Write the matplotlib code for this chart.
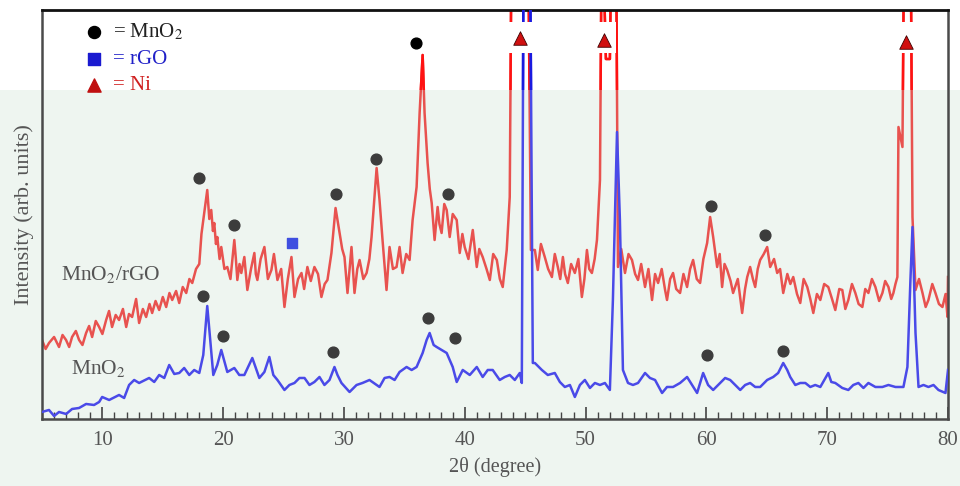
import matplotlib.pyplot as plt
from matplotlib.patches import Rectangle

# 2theta (degree) / intensity (arb. units)
red_x = [5.0, 5.3, 5.58, 6.0, 6.41, 6.7, 6.99, 7.25, 7.49, 7.8,
         8.07, 8.35, 8.65, 8.9, 9.15, 9.45, 9.73, 10.0, 10.31, 10.55,
         10.80, 11.1, 11.38, 11.7, 11.97, 12.2, 12.46, 12.79, 13.04, 13.35,
         13.62, 13.9, 14.12, 14.4, 14.70, 15.0, 15.28, 15.55, 15.78, 16.1,
         16.36, 16.65, 16.94, 17.2, 17.44, 17.75, 18.02, 18.2, 18.43, 18.68,
         18.85, 19.01, 19.15, 19.26, 19.4, 19.51, 19.7, 19.84, 20.1, 20.34,
         20.6, 20.92, 21.05, 21.17, 21.35, 21.50, 21.75, 22.00, 22.3, 22.58,
         22.7, 22.83, 23.1, 23.41, 23.7, 23.99, 24.2, 24.49, 24.8, 25.07,
         25.35, 25.65, 25.90, 26.2, 26.48, 26.7, 26.97, 27.25, 27.55, 27.85,
         28.13, 28.4, 28.63, 28.96, 29.30, 29.63, 29.85, 30.04, 30.29, 30.62,
         30.87, 31.1, 31.29, 31.6, 31.87, 32.1, 32.28, 32.70, 32.94, 33.19,
         33.52, 33.77, 34.05, 34.35, 34.60, 34.85, 35.15, 35.43, 35.68, 36.01,
         36.26, 36.51, 36.67, 36.92, 37.1, 37.26, 37.50, 37.75, 37.9, 38.08,
         38.3, 38.50, 38.75, 39.0, 39.33, 39.58, 39.8, 39.99, 40.3, 40.66,
         40.99, 41.2, 41.48, 41.8, 42.07, 42.35, 42.65, 42.9, 43.14, 43.47,
         43.72, 43.89, 45.22, 45.47, 45.80, 46.04, 46.3, 46.62, 46.9, 47.21,
         47.45, 47.70, 47.9, 48.12, 48.3, 48.53, 48.8, 49.11, 49.4, 49.69,
         49.9, 50.11, 50.3, 50.52, 50.75, 50.94, 51.19, 51.35, 51.68, 52.01,
         52.18, 52.51, 52.68, 52.95, 53.26, 53.55, 53.84, 54.1, 54.34, 54.6,
         54.92, 55.2, 55.50, 55.75, 56.00, 56.3, 56.58, 56.74, 57.0, 57.24,
         57.5, 57.82, 58.1, 58.40, 58.65, 58.90, 59.2, 59.48, 59.75, 60.06,
         60.31, 60.56, 60.89, 61.1, 61.30, 61.5, 61.72, 62.0, 62.21, 62.6,
         62.96, 63.2, 63.38, 63.62, 63.85, 64.04, 64.25, 64.45, 64.75, 65.03,
         65.28, 65.6, 65.86, 66.1, 66.36, 66.7, 66.95, 67.19, 67.5, 67.77,
         68.05, 68.35, 68.6, 68.85, 69.15, 69.43, 69.75, 70.09, 70.4, 70.67,
         71.0, 71.25, 71.5, 71.75, 72.05, 72.33, 72.6, 72.91, 73.15, 73.41,
         73.7, 73.99, 74.3, 74.57, 74.8, 75.07, 75.3, 75.48, 75.65, 75.81,
         75.90, 76.23, 76.39, 76.89, 77.06, 77.31, 77.6, 77.89, 78.15, 78.38,
         78.7, 78.96, 79.25, 79.54, 79.8, 79.96, 80.0]
red_y = [79, 70, 76, 82, 72, 84, 79, 72, 82, 88,
         79, 74, 86, 93, 82, 98, 92, 85, 99, 108,
         92, 104, 99, 110, 92, 105, 102, 120, 96, 110,
         102, 115, 106, 118, 109, 122, 112, 126, 119, 128,
         116, 132, 126, 140, 136, 150, 155, 185, 206, 229,
         200, 209, 188, 196, 175, 182, 160, 172, 150, 152,
         140, 179, 160, 139, 155, 146, 162, 129, 150, 166,
         145, 139, 160, 172, 140, 149, 165, 139, 150, 112,
         140, 162, 122, 140, 146, 130, 152, 138, 152, 145,
         122, 135, 139, 166, 211, 186, 170, 162, 126, 172,
         126, 150, 159, 140, 146, 160, 182, 251, 219, 179,
         129, 172, 150, 152, 172, 146, 165, 159, 199, 232,
         306, 364, 306, 256, 230, 216, 179, 212, 195, 186,
         215, 209, 182, 205, 199, 166, 185, 172, 160, 189,
         152, 170, 162, 150, 139, 165, 159, 140, 132, 169,
         222, 520, 520, 169, 169, 149, 175, 162, 150, 142,
         165, 152, 140, 162, 145, 136, 155, 146, 160, 122,
         140, 169, 150, 146, 160, 179, 239, 520, 360, 360,
         520, 520, 152, 170, 146, 165, 159, 145, 139, 155,
         132, 150, 119, 145, 136, 150, 129, 119, 140, 146,
         130, 126, 145, 132, 150, 159, 140, 136, 160, 176,
         202, 182, 152, 165, 132, 155, 149, 138, 126, 140,
         106, 130, 142, 152, 140, 132, 150, 159, 165, 172,
         152, 160, 146, 150, 126, 145, 135, 142, 125, 116,
         140, 132, 120, 106, 125, 119, 135, 132, 120, 109,
         130, 129, 110, 119, 135, 126, 115, 112, 130, 126,
         140, 132, 118, 126, 138, 132, 120, 126, 135, 142,
         292, 272, 520, 520, 202, 129, 140, 126, 112, 119,
         135, 126, 115, 112, 125, 102, 142]

blue_x = [5.0, 5.58, 6.0, 6.41, 7.0, 7.49, 8.07, 8.65, 9.31, 9.73, 9.98, 10.56, 11.38, 11.8,
          12.21, 12.63, 13.04, 13.87, 14.29, 14.70, 15.12, 15.53, 15.95, 16.36, 16.77, 17.19,
          17.60, 18.02, 18.35, 18.68, 18.93, 19.18, 19.51, 19.84, 20.34, 20.92, 21.33, 21.75,
          22.41, 22.99, 23.41, 23.82, 24.15, 24.49, 25.07, 25.48, 25.90, 26.31, 26.73, 27.14,
          27.55, 27.97, 28.38, 28.80, 29.21, 29.46, 29.79, 30.46, 31.04, 31.53, 32.11, 32.94,
          33.36, 33.77, 34.19, 34.60, 35.18, 35.60, 36.01, 36.51, 36.84, 37.09, 37.42, 37.67,
          38.08, 38.50, 38.75, 39.00, 39.33, 39.83, 40.41, 40.99, 41.48, 41.90, 42.31, 42.89,
          43.31, 43.72, 44.14, 44.55, 44.72, 44.88, 45.38, 45.63, 45.80, 46.38, 46.87, 47.45,
          47.87, 48.28, 48.70, 49.11, 49.53, 49.94, 50.36, 50.77, 51.19, 51.60, 52.01, 52.26,
          52.60, 52.84, 53.09, 53.51, 53.92, 54.34, 54.92, 55.33, 55.75, 56.33, 56.74, 57.24,
          57.82, 58.40, 58.81, 59.23, 59.73, 60.14, 60.56, 61.14, 61.55, 61.97, 62.38, 62.80,
          63.21, 63.62, 64.04, 64.45, 65.03, 65.53, 65.94, 66.36, 66.69, 66.94, 67.36, 67.77,
          68.19, 68.60, 69.01, 69.43, 69.76, 70.09, 70.34, 70.67, 71.25, 71.75, 72.16, 72.58,
          73.00, 73.41, 73.99, 74.57, 75.07, 75.65, 76.31, 76.64, 76.89, 77.06, 77.31, 77.56,
          77.97, 78.38, 78.80, 79.21, 79.79, 80.0]
blue_y = [7, 9, 3, 7, 5, 10, 11, 15, 14, 17, 22, 19, 24, 21,
          34, 39, 36, 41, 37, 44, 41, 54, 45, 46, 51, 44,
          49, 46, 64, 113, 79, 44, 54, 69, 47, 51, 44, 44,
          61, 41, 47, 62, 44, 39, 29, 34, 36, 41, 41, 34,
          37, 42, 34, 39, 52, 44, 36, 27, 34, 36, 39, 32,
          41, 42, 39, 47, 52, 49, 52, 66, 79, 86, 74, 72,
          69, 66, 59, 52, 37, 49, 44, 52, 42, 49, 49, 39,
          42, 44, 39, 46, 36, 520, 520, 56, 56, 49, 44, 46,
          37, 32, 34, 22, 34, 39, 31, 36, 34, 36, 29, 119,
          287, 199, 49, 36, 34, 36, 46, 41, 39, 26, 32, 32,
          36, 42, 34, 26, 46, 34, 29, 36, 41, 39, 34, 29,
          34, 36, 32, 32, 39, 42, 46, 56, 49, 42, 34, 36,
          36, 32, 34, 32, 39, 46, 37, 36, 31, 29, 34, 36,
          31, 36, 32, 32, 34, 32, 32, 52, 139, 192, 86, 32,
          34, 32, 34, 29, 26, 49]

# peak markers
mno2_x = [18.02, 20.92, 29.30, 32.62, 38.58, 60.39, 64.87,
          18.35, 20.0, 29.13, 36.92, 39.16, 60.06, 66.36]
mno2_y = [241, 194, 225, 260, 225, 213, 184,
          123, 83, 67, 101, 81, 64, 68]
mno2_top_x = [36.0]
mno2_top_y = [376]
rgo_x = [25.73]
rgo_y = [176]
ni_x = [44.55, 51.52, 76.56]
ni_y = [381, 379, 377]

red = '#e8524f'
blue = '#4a4ae8'
plt.rcParams['font.family'] = ['Liberation Serif', 'DejaVu Serif']
plt.rcParams['mathtext.fontset'] = 'stix'

fig = plt.figure(figsize=(9.6, 4.86), dpi=100, facecolor='#eef5f0')
# white strip at the top of the scanned page
fig.patches.append(Rectangle((0, 0.815), 1, 0.185, transform=fig.transFigure,
                             facecolor='white', edgecolor='none', zorder=-1))
ax = fig.add_axes([0.04375, 0.1379, 0.94375, 0.8415])
ax.patch.set_alpha(0)

ax.plot(red_x, red_y, color=red, lw=1.8, zorder=2)
ax.plot(blue_x, blue_y, color=blue, lw=1.8, zorder=3)

# lines look brighter in the white strip at the top
top_clip = Rectangle((5, 329), 75, 80, transform=ax.transData)
l1, = ax.plot(red_x, red_y, color='#ff1212', lw=1.8, zorder=2.5)
l2, = ax.plot(blue_x, blue_y, color='#1a1ae0', lw=1.8, zorder=3.5)
l1.set_clip_path(top_clip)
l2.set_clip_path(top_clip)

# white boxes behind the Ni triangles
for x0, w in [(43.5, 2.4), (50.85, 1.65), (75.9, 1.3)]:
    ax.add_patch(Rectangle((x0, 366), w, 31, facecolor='white', edgecolor='none', zorder=4))

ax.scatter(mno2_x, mno2_y, s=60, color='#3c3c3c', zorder=5)
ax.scatter(mno2_top_x, mno2_top_y, s=60, color='black', zorder=5)
ax.scatter(rgo_x, rgo_y, s=60, marker='s', color='#3f4fe0', zorder=5)
ax.scatter(ni_x, ni_y, s=95, marker='^', color='#d01010', edgecolor='#400000', lw=0.6, zorder=5)

# legend drawn by hand like the original
ax.scatter([9.3], [387], s=75, color='black', zorder=5, clip_on=False)
ax.scatter([9.3], [360], s=65, marker='s', color='#1a1ad0', zorder=5, clip_on=False)
ax.scatter([9.3], [334], s=90, marker='^', color='#c01010', zorder=5, clip_on=False)
ax.text(10.9, 387, '= MnO$_2$', fontsize=15, color='#222222', va='center')
ax.text(10.9, 360, '= rGO', fontsize=15, color='#2020c8', va='center')
ax.text(10.9, 334, '= Ni', fontsize=15, color='#d02020', va='center')

ax.text(6.6, 144, 'MnO$_2$/rGO', fontsize=15.5, color='#555555', va='center')
ax.text(7.4, 50, 'MnO$_2$', fontsize=15.5, color='#555555', va='center')

ax.set_xlim(5, 80)
ax.set_ylim(0, 409)
ax.set_xticks(range(10, 81, 10))
ax.set_xticks(range(5, 81), minor=True)
ax.set_yticks([])
ax.tick_params(axis='x', which='major', direction='in', length=9, width=1.2,
               colors='#444444', labelsize=15, labelcolor='#555555', pad=9)
ax.tick_params(axis='x', which='minor', direction='in', length=5, width=1.0, colors='#444444')
for side in ['bottom', 'left', 'right']:
    ax.spines[side].set_color('#4a4a4a')
    ax.spines[side].set_linewidth(1.8)
ax.spines['top'].set_color('#111111')
ax.spines['top'].set_linewidth(2)

ax.set_xlabel('2θ (degree)', fontsize=14.5, color='#555555', labelpad=5)
ax.set_ylabel('Intensity (arb. units)', fontsize=16, color='#555555', labelpad=6)

plt.savefig('out.png', dpi=100, facecolor=fig.get_facecolor())
